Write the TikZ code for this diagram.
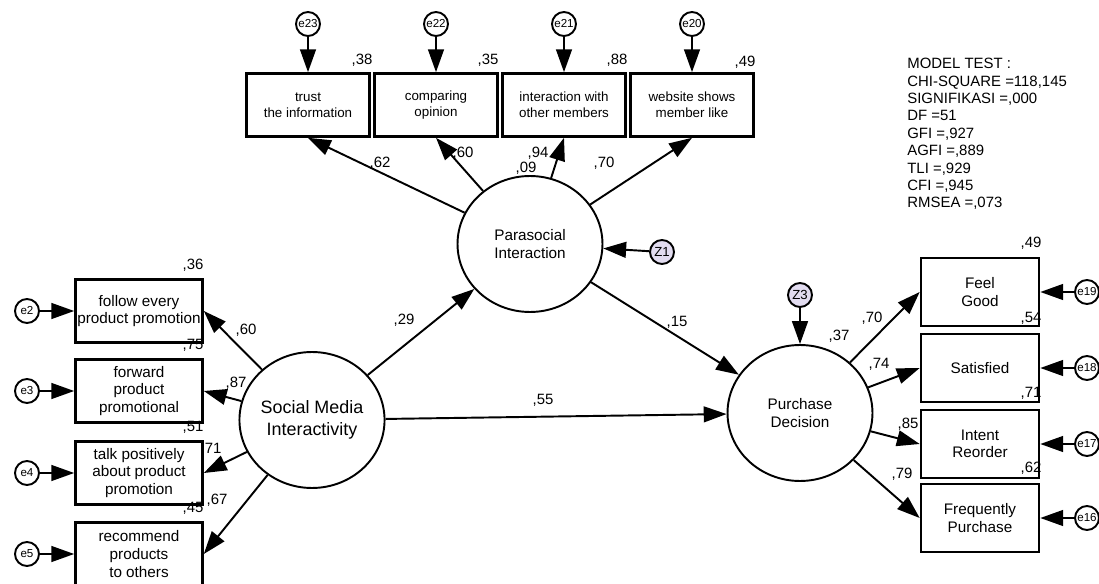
\documentclass[tikz,border=0pt]{standalone}
\usepackage{fontspec}
\setmainfont{Liberation Sans}
\usepackage{tikz}
\usetikzlibrary{arrows.meta,shapes.geometric,positioning}
\definecolor{zfill}{HTML}{E2DCF0}

\begin{document}
\begin{tikzpicture}[x=0.02cm,y=-0.02cm,
  obs/.style={draw,line width=1.5pt,inner sep=0,align=center},
  topbox/.style={obs,minimum width=2.46cm,minimum height=1.26cm,font=\fontsize{7.6}{9.3}\selectfont},
  leftbox/.style={obs,minimum width=2.54cm,minimum height=1.26cm,font=\fontsize{8.7}{10}\selectfont},
  rightbox/.style={obs,minimum width=2.36cm,minimum height=1.36cm,font=\fontsize{8.7}{10}\selectfont},
  lat/.style={draw,ellipse,line width=1.1pt,inner sep=0,minimum width=2.9cm,minimum height=2.72cm,align=center,font=\fontsize{8.7}{10}\selectfont},
  err/.style={draw,circle,line width=1.1pt,inner sep=0,minimum size=0.48cm,font=\fontsize{6.6}{7}\selectfont},
  dist/.style={err,fill=zfill,font=\fontsize{7.5}{8}\selectfont},
  coef/.style={inner sep=0,font=\fontsize{8.5}{10}\selectfont},
  arr/.style={-{Triangle[length=13pt,width=9pt]},line width=1.1pt}]
\useasboundingbox (0,0) rectangle (1099,584);

% latent variables
\node[lat,font=\fontsize{10.2}{12.3}\selectfont] (smi) at (312,420) {Social Media\\Interactivity};
\node[lat] (pi) at (530,244) {Parasocial\\Interaction};
\node[lat] (pd) at (800,413) {Purchase\\Decision};
\node[dist] (z1) at (662,252) {Z1};
\node[dist] (z3) at (800,295) {Z3};

% parasocial indicators
\node[topbox] (t1) at (308,105) {trust\\the information};
\node[topbox] (t2) at (436,105) {comparing\\opinion};
\node[topbox] (t3) at (564,105) {interaction with\\other members};
\node[topbox] (t4) at (692,105) {website shows\\member like};
\node[err] (e23) at (308,24) {e23};
\node[err] (e22) at (436,24) {e22};
\node[err] (e21) at (564,24) {e21};
\node[err] (e20) at (692,24) {e20};

% social media indicators
\node[leftbox] (l1) at (139,311) {follow every\\product promotion};
\node[leftbox] (l2) at (139,391) {forward\\product\\promotional};
\node[leftbox] (l3) at (139,473) {talk positively\\about product\\promotion};
\node[leftbox] (l4) at (139,554) {recommend\\products\\to others};
\node[err] (e2) at (27,311) {e2};
\node[err] (e3) at (27,391) {e3};
\node[err] (e4) at (27,473) {e4};
\node[err] (e5) at (27,554) {e5};

% purchase decision indicators
\node[rightbox] (r1) at (980,292) {Feel\\Good};
\node[rightbox] (r2) at (980,368) {Satisfied};
\node[rightbox] (r3) at (980,444) {Intent\\Reorder};
\node[rightbox] (r4) at (980,518) {Frequently\\Purchase};
\node[err] (e19) at (1087,292) {e19};
\node[err] (e18) at (1087,368) {e18};
\node[err] (e17) at (1087,444) {e17};
\node[err] (e16) at (1087,518) {e16};

\draw[arr] (e23)--(t1); \draw[arr] (e22)--(t2); \draw[arr] (e21)--(t3); \draw[arr] (e20)--(t4);
\draw[arr] (e2)--(l1); \draw[arr] (e3)--(l2); \draw[arr] (e4)--(l3); \draw[arr] (e5)--(l4);
\draw[arr] (e19)--(r1); \draw[arr] (e18)--(r2); \draw[arr] (e17)--(r3); \draw[arr] (e16)--(r4);
\draw[arr] (pi)--(t1.south); \draw[arr] (pi)--(t2.south); \draw[arr] (pi)--(t3.south); \draw[arr] (pi)--(t4.south);
\draw[arr] (smi)--(l1.east); \draw[arr] (smi)--(l2.east); \draw[arr] (smi)--(l3.east); \draw[arr] (smi)--(l4.east);
\draw[arr] (pd)--(r1.west); \draw[arr] (pd)--(r2.west); \draw[arr] (pd)--(r3.west); \draw[arr] (pd)--(r4.west);
\draw[arr] (smi)--(pi); \draw[arr] (pi)--(pd); \draw[arr] (smi)--(pd);
\draw[arr] (z1)--(pi); \draw[arr] (z3)--(pd);

% estimates
\node[coef] (c38) at (362,60) {,38};
\node[coef] (c35) at (488,60) {,35};
\node[coef] (c88) at (617,60) {,88};
\node[coef] (c49a) at (745,62) {,49};
\node[coef] (c62a) at (380,163) {,62};
\node[coef] (c60a) at (463,153) {,60};
\node[coef] (c94) at (538,153) {,94};
\node[coef] (c09) at (526,168) {,09};
\node[coef] (c70a) at (604,163) {,70};
\node[coef] (c36) at (193,265) {,36};
\node[coef] (c60b) at (246,330) {,60};
\node[coef] (c75) at (193,345) {,75};
\node[coef] (c87) at (236,383) {,87};
\node[coef] (c51) at (193,427) {,51};
\node[coef] (c71a) at (211,449) {,71};
\node[coef] (c45) at (193,508) {,45};
\node[coef] (c67) at (217,500) {,67};
\node[coef] (c29) at (404,320) {,29};
\node[coef] (c15) at (677,322) {,15};
\node[coef] (c55) at (543,400) {,55};
\node[coef] (c37) at (839,336) {,37};
\node[coef] (c49b) at (1031,243) {,49};
\node[coef] (c54) at (1031,318) {,54};
\node[coef] (c71b) at (1031,393) {,71};
\node[coef] (c62b) at (1031,468) {,62};
\node[coef] (c70b) at (872,318) {,70};
\node[coef] (c74) at (879,364) {,74};
\node[coef] (c85) at (908,424) {,85};
\node[coef] (c79) at (902,474) {,79};

\node[anchor=north west,inner sep=0,align=left,font=\fontsize{8.5}{9.9}\selectfont] (fit) at (907,58)
  {MODEL TEST :\\CHI-SQUARE =118,145\\SIGNIFIKASI =,000\\DF =51\\GFI =,927\\AGFI =,889\\TLI =,929\\CFI =,945\\RMSEA =,073};
\end{tikzpicture}
\end{document}
